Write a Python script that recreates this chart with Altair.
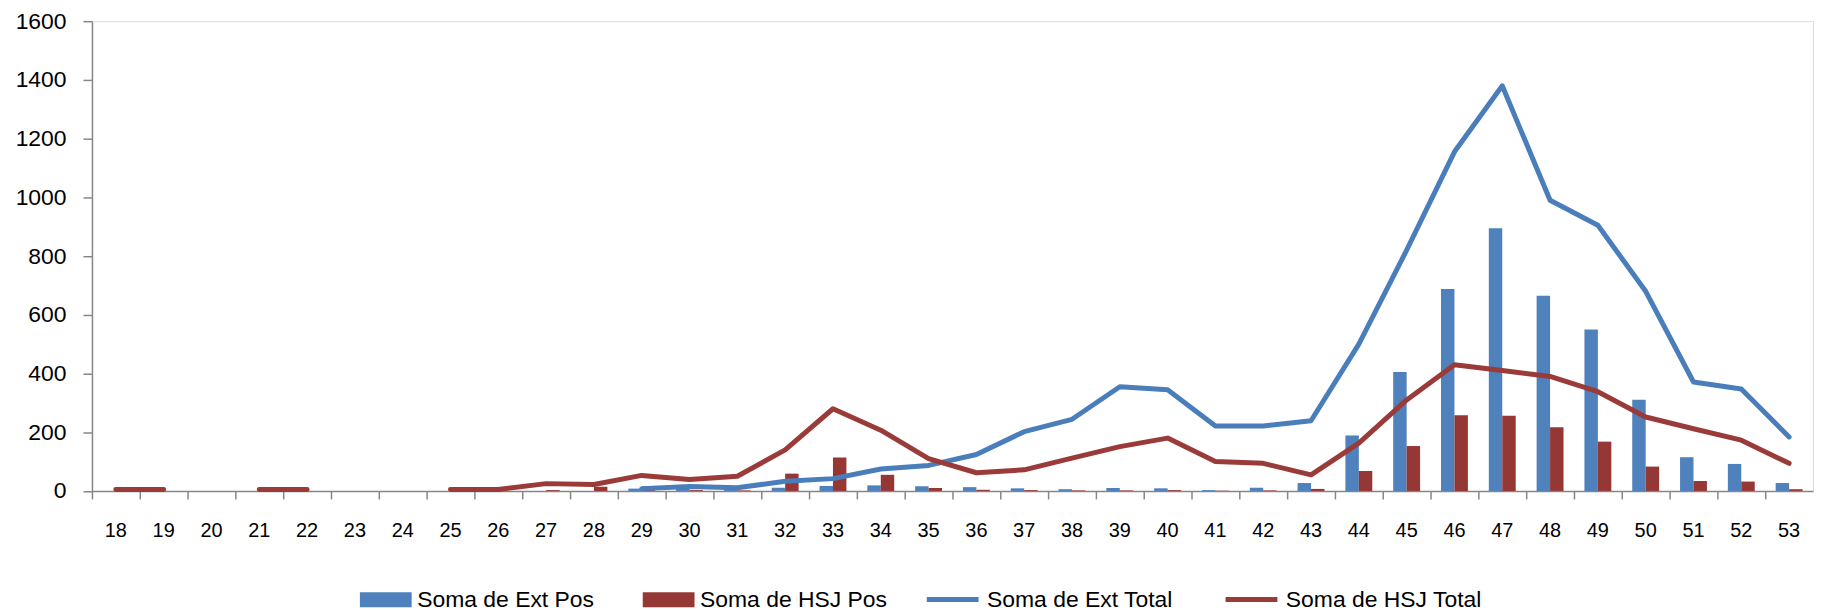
import altair as alt
import pandas as pd

weeks = ["18", "19", "20", "21", "22", "23", "24", "25", "26", "27", "28", "29",
         "30", "31", "32", "33", "34", "35", "36", "37", "38", "39", "40", "41",
         "42", "43", "44", "45", "46", "47", "48", "49", "50", "51", "52", "53"]

ext_pos = [None, None, None, None, None, None, None, None, None, None, None,
           8, 12, 8, 11, 17, 19, 16, 13, 9, 6, 10, 9, 3, 11, 27,
           189, 405, 688, 895, 665, 550, 311, 115, 92, 27]
hsj_pos = [0, 0, None, 0, 0, None, None, 0, 0, 3, 14, 15, 3, 2, 59, 114, 55, 10,
           4, 3, 2, 2, 3, 1, 2, 7, 68, 153, 258, 256, 217, 168, 83, 34, 32, 6]
ext_total = [None, None, None, None, None, None, None, None, None, None, None,
             8, 15, 11, 33, 42, 75, 87, 124, 202, 244, 355, 345, 221, 221, 239,
             500, 820, 1155, 1380, 990, 905, 680, 371, 347, 184]
hsj_total = [5, 5, None, 5, 5, None, None, 5, 5, 25, 22, 53, 39, 50, 140, 280,
             207, 110, 62, 72, 112, 151, 180, 100, 94, 55, 163, 310, 430, 410,
             390, 338, 252, 212, 173, 94]

bar_series = ["Soma de Ext Pos", "Soma de HSJ Pos"]
line_series = ["Soma de Ext Total", "Soma de HSJ Total"]

bar_rows = []
for name, vals in zip(bar_series, [ext_pos, hsj_pos]):
    for w, v in zip(weeks, vals):
        if v is not None:
            bar_rows.append({"semana": w, "serie": name, "valor": v})
bars_df = pd.DataFrame(bar_rows)

line_rows = []
for name, vals in zip(line_series, [ext_total, hsj_total]):
    for w, v in zip(weeks, vals):
        line_rows.append({"semana": w, "serie": name, "valor": v})
lines_df = pd.DataFrame(line_rows)

FONT = "Liberation Sans"
GRAY = "#868686"
LW = 5

x_enc = alt.X(
    "semana:O",
    sort=weeks,
    scale=alt.Scale(domain=weeks, paddingInner=0, paddingOuter=0),
    axis=alt.Axis(
        title=None, labelAngle=0, labelFontSize=20, labelFont=FONT,
        labelColor="#000000", tickSize=8, tickColor=GRAY, domainColor=GRAY,
        domainWidth=1.5, tickWidth=1.5, labelPadding=22, bandPosition=0,
        grid=False,
    ),
)

y_enc_axis = alt.Axis(
    title=None, values=[0, 200, 400, 600, 800, 1000, 1200, 1400, 1600],
    format="d", labelFontSize=23, labelFont=FONT, labelColor="#000000",
    tickSize=9, tickColor=GRAY, domainColor=GRAY, domainWidth=1.5,
    tickWidth=1.5, labelPadding=17, grid=False,
)
y_scale = alt.Scale(domain=[0, 1600], nice=False)

rect_path = "M-1,-0.2885H1V0.2885H-1Z"
LEG_Y = 552

bars = alt.Chart(bars_df).mark_bar(size=13.5).encode(
    x=x_enc,
    xOffset=alt.XOffset("serie:N", sort=bar_series,
                        scale=alt.Scale(domain=bar_series, paddingInner=0,
                                        paddingOuter=0.7778)),
    y=alt.Y("valor:Q", scale=y_scale, axis=y_enc_axis),
    color=alt.Color(
        "serie:N",
        scale=alt.Scale(domain=bar_series, range=["#4F81BD", "#953735"]),
        legend=alt.Legend(
            title=None, orient="none", legendX=266.5, legendY=LEG_Y,
            direction="horizontal", columns=2, symbolType=rect_path,
            symbolSize=2704, symbolStrokeWidth=LW,
            symbolStrokeColor="transparent", labelOffset=3,
            columnPadding=38, labelFontSize=23, labelFont=FONT,
            labelColor="#000000", padding=0, labelLimit=400,
        ),
    ),
)

lines = alt.Chart(lines_df).mark_line(
    strokeWidth=LW, strokeCap="round", strokeJoin="round",
    invalid="break-paths-show-domains",
).encode(
    x=x_enc,
    y=alt.Y("valor:Q", scale=y_scale, axis=y_enc_axis),
    stroke=alt.Stroke(
        "serie:N",
        scale=alt.Scale(domain=line_series, range=["#4A7EBB", "#9A3B39"]),
        legend=alt.Legend(
            title=None, orient="none", legendX=835.7, legendY=LEG_Y,
            direction="horizontal", columns=2, symbolType="stroke",
            symbolSize=2704, symbolStrokeWidth=LW, labelOffset=6,
            columnPadding=42, labelFontSize=23, labelFont=FONT,
            labelColor="#000000", padding=0, labelLimit=400,
        ),
    ),
    detail="serie:N",
)

chart = alt.layer(bars, lines).resolve_scale(
    color="independent", stroke="independent"
).properties(
    width=1728,
    height=471.7,
    autosize=alt.AutoSizeParams(type="none"),
    padding={"left": 84.3, "top": 12, "right": 2, "bottom": 120},
).configure_view(stroke=None).configure(background="#ffffff")

chart.save("out.html", embed_options={"renderer": "svg", "actions": False})
